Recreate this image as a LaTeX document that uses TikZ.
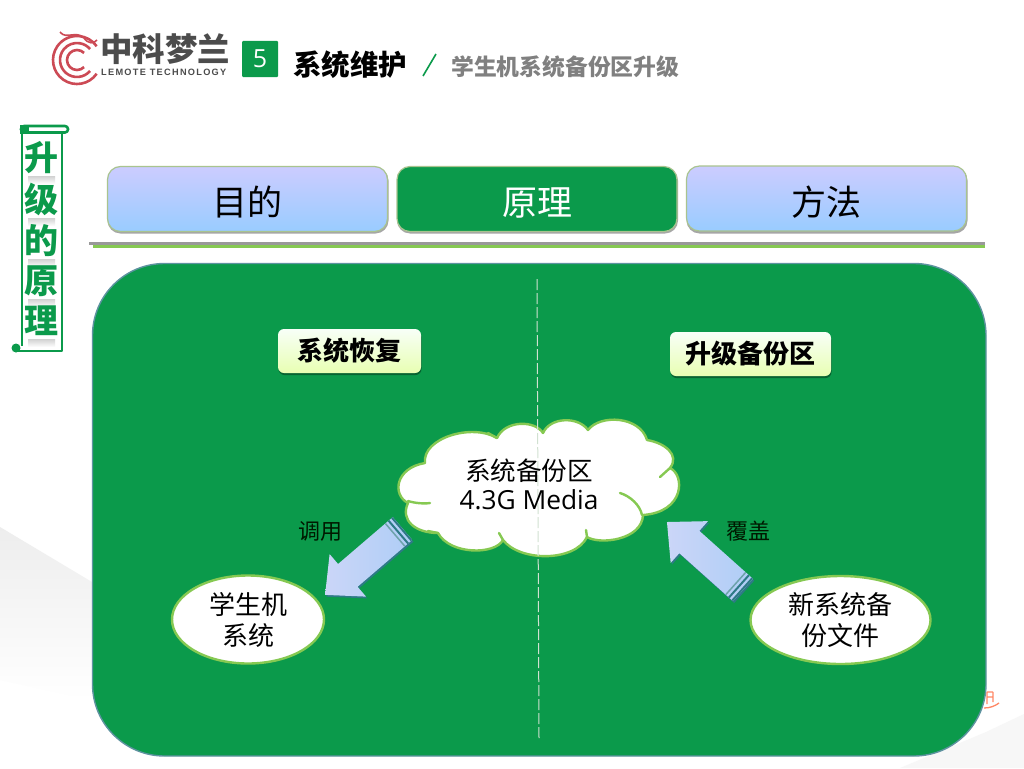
\documentclass[tikz,border=0pt]{standalone}
\usepackage{fontspec}
\usetikzlibrary{shapes.geometric}
\setmainfont{Noto Sans CJK SC}
\newfontfamily\latinfont{Open Sans}
\newfontfamily\logofont[LetterSpace=14]{Liberation Sans}
\definecolor{panelgreen}{HTML}{0B9A4B}
\definecolor{paneledge}{HTML}{5E93A0}
\definecolor{leafgreen}{HTML}{86C952}
\definecolor{tabedge}{HTML}{A9C48F}
\definecolor{tabtop}{HTML}{CCCCFF}
\definecolor{tabbottom}{HTML}{99CCFF}
\definecolor{arrowedge}{HTML}{2E7A86}
\definecolor{arrowlight}{HTML}{CBD6F8}
\definecolor{arrowhead}{HTML}{AECDF6}
\definecolor{dragonred}{HTML}{CC4A55}
\tikzset{
    tabbox/.style={rounded corners=13pt,draw=tabedge,line width=1.2pt,minimum width=280pt,minimum height=65pt,
        text height=36pt,text depth=3pt,font=\fontsize{35}{38}\selectfont},
    tabshadow/.style={rounded corners=13pt,fill=black!35,minimum width=281pt,minimum height=66pt},
    labelbox/.style={rounded corners=6pt,top color=green!3!white,bottom color=green!30!yellow!30!white,draw=none,
        minimum height=44pt,text height=22pt,text depth=2.2pt,font=\bfseries\fontsize{26}{30}\selectfont},
    labelshadow/.style={rounded corners=6pt,fill=black!35!panelgreen,minimum height=44pt},
    ovalbox/.style={ellipse,draw=leafgreen,line width=2.4pt,fill=white,align=center,inner sep=0pt,
        font=\fontsize{26}{31}\selectfont},
    tag/.style={font=\fontsize{22}{26}\selectfont,text=black!90!green},
    scrollchar/.style={font=\bfseries\fontsize{34}{36}\selectfont,inner sep=0pt},
    cloudline/.style={draw=leafgreen,line width=2.4pt,line cap=round}
}
\newcommand{\arrowshape}{(0,-15) -- (72,-15) -- (72,-28) -- (102,0) -- (72,28) -- (72,15) -- (0,15) -- cycle}
\newcommand{\blockarrow}[2]{
    \begin{scope}[shift={(#1)},shift={(1.2,1.8)},rotate=#2]
        \fill[arrowedge] \arrowshape;
    \end{scope}
    \begin{scope}[shift={(#1)},rotate=#2]
        \shade[left color=arrowlight,right color=arrowhead] \arrowshape;
        \fill[arrowedge] (0,-15) rectangle (2,15);
        \fill[arrowedge] (4.5,-15) rectangle (6.5,15);
        \fill[arrowedge!70] (9,-15) rectangle (10.5,15);
    \end{scope}
}
\begin{document}
\begin{tikzpicture}[x=1pt,y=-1pt,line join=round]
    \useasboundingbox[fill=white] (0,0) rectangle (1024,768);
    \shade[top color=black!7,bottom color=white] (0,527) -- (92,582) -- (92,700) -- (0,680) -- cycle;
    \fill[black!3] (986,732) -- (1024,714) -- (1024,768) -- (900,768) -- cycle;

    \begin{scope}[dragonred,line width=2.6pt]
        \draw ([shift={(35:24)}]77,60) arc[start angle=35,end angle=325,radius=24];
        \draw ([shift={(40:17)}]77,60) arc[start angle=40,end angle=320,radius=17];
        \draw ([shift={(45:10)}]77,60) arc[start angle=45,end angle=315,radius=10];
        \draw[line width=1.6pt] (60,32) .. controls (66,40) and (76,30) .. (84,38) .. controls (88,44) and (94,44) .. (97,40);
    \end{scope}
    \node[anchor=base west,inner sep=0pt,text height=24pt,text depth=0pt,text=black!70,font=\bfseries\fontsize{32.5}{34}\selectfont] (logotext) at (100,62) {中科梦兰};
    \node[anchor=base west,inner sep=0pt,text=black!70,font=\logofont\bfseries\fontsize{9.2}{10}\selectfont] (logosub) at (101,75) {LEMOTE TECHNOLOGY};

    \node[fill=panelgreen,minimum size=36pt,inner sep=0pt,rounded corners=1pt,text=white,
        font=\latinfont\fontsize{25}{28}\selectfont] (number) at (260,59) {5};
    \node[anchor=west,inner sep=0pt,font=\bfseries\fontsize{28.5}{30}\selectfont] (maintitle) at (293,65) {系统维护};
    \draw[panelgreen,line width=1.6pt] (436,54) -- (423,76);
    \node[anchor=west,inner sep=0pt,text=black!50,font=\bfseries\fontsize{22.8}{26}\selectfont] (subtitle) at (451,67) {学生机系统备份区升级};

    \foreach \py in {176,218,259,299,339} {
        \shade[top color=black!18,bottom color=white] (28,\py) rectangle (55,\py+8);
    }
    \draw[panelgreen,line width=2.4pt] (22,130) -- (22,346);
    \draw[panelgreen,line width=2.4pt] (62,130) -- (62,351) -- (17,351);
    \draw[panelgreen,line width=2.6pt,fill=white,rounded corners=3pt] (21,126) rectangle (68,132.5);
    \fill[panelgreen] (20,125) rectangle (29,134);
    \fill[panelgreen] (16,348) circle (4.5);
    \foreach \ch/\py/\nm in {升/158/a,级/199/b,的/241/c,原/281/d,理/321/e} {
        \node[scrollchar,text=panelgreen] (scroll\nm) at (41.5,\py) {\ch};
    }

    \node[tabshadow] at (248,200.5) {};
    \node[tabbox,top color=tabtop,bottom color=tabbottom] (goal) at (247.5,199) {目的};
    \node[tabshadow] at (537.5,200.5) {};
    \node[tabbox,fill=panelgreen,text=white] (theory) at (537,199) {原理};
    \node[tabshadow] at (827,200.5) {};
    \node[tabbox,top color=tabtop,bottom color=tabbottom] (method) at (826.5,198.5) {方法};
    \draw[black!40,line width=2.4pt] (89,243.5) -- (985,243.5);
    \draw[leafgreen,line width=2.4pt] (93,246.5) -- (985,246.5);

    \draw[red!55!orange!60!white,line width=1.3pt] (987,692) -- (987,704) (993,692) -- (993,702) (987,692) -- (993,692) (987,697) -- (993,697) (984,708) .. controls (990,708) and (995,706) .. (999,703);
    \draw[fill=panelgreen,draw=paneledge,line width=1.4pt,rounded corners=72pt] (92.5,263.5) rectangle (986,756);

    \node[labelshadow,minimum width=143pt] at (350,353) {};
    \node[labelbox,minimum width=143pt] (restore) at (349.5,351) {系统恢复};
    \node[labelshadow,minimum width=161pt] at (751,356) {};
    \node[labelbox,minimum width=161pt] (upgrade) at (750.5,354) {升级备份区};

    \draw[fill=white,cloudline] (425,463) .. controls (422,438) and (472,423) .. (497,438)
        .. controls (505,420) and (535,420) .. (543,433)
        .. controls (550,417) and (578,416) .. (588,430)
        .. controls (600,414) and (640,416) .. (647,440)
        .. controls (665,443) and (680,455) .. (670,468)
        .. controls (685,475) and (685,512) .. (643,515)
        .. controls (642,540) and (600,545) .. (587,537)
        .. controls (575,562) and (520,562) .. (503,540)
        .. controls (495,555) and (450,555) .. (438,533)
        .. controls (415,533) and (400,520) .. (408,503)
        .. controls (392,495) and (395,468) .. (425,463) -- cycle;
    \draw[cloudline] (408,501) .. controls (414,503) and (424,504) .. (430,503);
    \draw[cloudline] (620,493) .. controls (630,496) and (640,505) .. (642,515);
    \draw[cloudline] (660,477) -- (670,468);
    \draw[cloudline] (497,438) -- (488,433);
    \draw[cloudline] (438,533) -- (428,531);
    \draw[cloudline] (503,540) -- (499,533);
    \draw[cloudline] (587,537) -- (586,530);

    \coordinate (dividertop) at (537,279);
    \coordinate (dividerbottom) at (539,739);
    \draw[green!35!black!18!white,line width=1pt,dash pattern=on 11pt off 3pt] (dividertop) -- (dividerbottom);

    \node[align=center,inner sep=0pt,font=\fontsize{25.6}{29}\selectfont] (backup) at (529,484.5) {系统备份区\\{\latinfont\fontsize{26.3}{29}\selectfont 4.3G Media}};
    \node[ovalbox,minimum width=152pt,minimum height=88pt] (student) at (248,619.5) {学生机\\系统};
    \node[ovalbox,minimum width=180pt,minimum height=88pt] (newfile) at (840.5,620) {新系统备\\份文件};

    \coordinate (calltail) at (402.5,528.5);
    \coordinate (covertail) at (743,590);
    \blockarrow{calltail}{220.6}
    \blockarrow{covertail}{138.2}
    \node[tag] (call) at (320,531) {调用};
    \node[tag] (cover) at (748,531) {覆盖};
\end{tikzpicture}
\end{document}
